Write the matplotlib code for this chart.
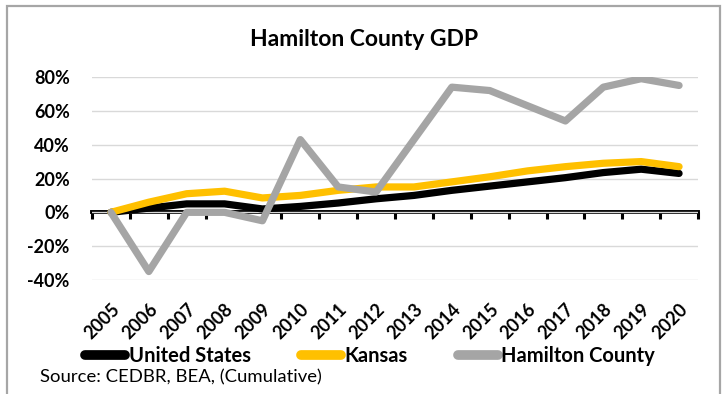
import matplotlib
matplotlib.use("Agg")
import matplotlib.pyplot as plt
from matplotlib.patches import Rectangle
from matplotlib.ticker import FuncFormatter, FixedLocator

years = ["2005", "2006", "2007", "2008", "2009", "2010", "2011", "2012",
         "2013", "2014", "2015", "2016", "2017", "2018", "2019", "2020"]
united_states = [0, 2.5, 5, 5, 2, 3.5, 5.5, 8, 10, 13, 15.5, 18, 20.5, 23.5, 25.5, 23]
kansas = [0, 6, 11, 12.5, 8.5, 10, 13, 15, 15, 18, 21, 24.5, 27, 29, 30, 27]
hamilton = [0, -35, 0, 0, -5, 43, 15, 12, 43, 74, 72, 63, 54, 74, 79, 75]
y_ticks = [-40, -20, 0, 20, 40, 60, 80]

FONT = "Lato"
W, H = 723, 394
fig = plt.figure(figsize=(W / 100, H / 100), dpi=100)

# chart frame
fig.patches.append(Rectangle((7 / W, -0.05), (720 - 7) / W, (H - 6) / H + 0.05,
                             transform=fig.transFigure, fill=False,
                             edgecolor="#A6A6A6", linewidth=1.6))

ax = fig.add_axes([92 / W, 1 - 280 / H, (698 - 92) / W, (280 - 77) / H])
x = list(range(len(years)))

ax.plot(x, united_states, color="black", lw=5.2, solid_capstyle="round",
        solid_joinstyle="round", label="United States", zorder=3)
ax.plot(x, kansas, color="#FFC000", lw=5.2, solid_capstyle="round",
        solid_joinstyle="round", label="Kansas", zorder=4)
ax.plot(x, hamilton, color="#A5A5A5", lw=5.2, solid_capstyle="round",
        solid_joinstyle="round", label="Hamilton County", zorder=5)

ax.set_xlim(-0.5, len(years) - 0.5)
ax.set_ylim(-40, 80)
ax.set_yticks(y_ticks)
ax.yaxis.set_major_formatter(FuncFormatter(lambda v, p: f"{int(v)}%"))
ax.grid(axis="y", color="#D9D9D9", lw=1.0, zorder=0)
ax.set_axisbelow(True)
for s in ax.spines.values():
    s.set_visible(False)
ax.tick_params(axis="y", length=0, pad=16, labelsize=13)
for t in ax.get_yticklabels():
    t.set_fontweight("bold")
    t.set_fontfamily(FONT)

ax.set_xticks(x)
ax.set_xticklabels(years, rotation=45, ha="right", rotation_mode="anchor",
                   fontsize=13, fontweight="bold", fontfamily=FONT)
ax.tick_params(axis="x", length=0, pad=15)

# zero axis line with category boundary ticks
sec = ax.secondary_xaxis(1 / 3)
sec.spines["bottom"].set_linewidth(2.8)
sec.spines["bottom"].set_color("black")
sec.xaxis.set_major_locator(FixedLocator([i - 0.5 for i in range(len(years) + 1)]))
sec.tick_params(axis="x", direction="out", length=5, width=2.2, color="black",
                labelbottom=False)
sec.set_xticklabels([])

fig.text(364 / W, 1 - 40 / H, "Hamilton County GDP", ha="center", va="center",
         fontsize=16.5, fontweight="bold", fontfamily=FONT)

leg = fig.legend(loc="center", bbox_to_anchor=(370 / W, 1 - 356 / H), ncol=3,
                 frameon=False, handlelength=2.0, handletextpad=0.15,
                 columnspacing=2.5, prop={"family": FONT, "weight": "bold", "size": 14.5})
for h in leg.get_lines():
    h.set_linewidth(7)

fig.text(40 / W, 1 - 377 / H, "Source: CEDBR, BEA, (Cumulative)", ha="left",
         va="center", fontsize=13.3, fontfamily=FONT)

fig.savefig("out.png", dpi=100)
